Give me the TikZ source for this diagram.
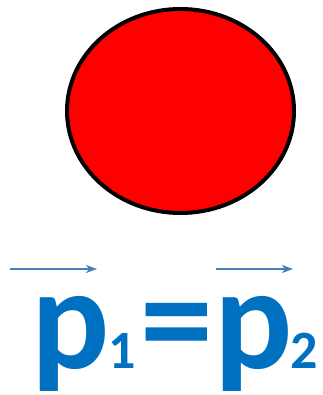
\documentclass[tikz,border=0pt]{standalone}
\usepackage{fontspec}
\setmainfont{Carlito}
\usetikzlibrary{arrows.meta}
\definecolor{txtblue}{HTML}{0070C0}
\definecolor{arrblue}{HTML}{4A7EBB}
\tikzset{
  ball/.style={draw=black, line width=4pt, fill=red},
  vecarrow/.style={draw=arrblue, line width=1.8pt, -{Stealth[length=11pt,width=8pt,inset=3pt]}},
  bigtxt/.style={inner sep=0pt, anchor=base west, text=txtblue, font=\fontsize{146}{146}\selectfont\bfseries},
  subtxt/.style={inner sep=0pt, anchor=base west, text=txtblue, font=\fontsize{54}{54}\selectfont\bfseries}
}
\begin{document}
\begin{tikzpicture}[x=1pt,y=-1pt]
\useasboundingbox (0,0) rectangle (322,395);
\draw[ball] (180.5,111) ellipse [x radius=113.5, y radius=102];
\coordinate (a1s) at (10,269);
\coordinate (a1e) at (97,269);
\coordinate (a2s) at (216,269);
\coordinate (a2e) at (293,269);
\draw[vecarrow] (a1s) -- (a1e);
\draw[vecarrow] (a2s) -- (a2e);
\node[bigtxt] (p1) at (31,368) {p};
\node[subtxt] (s1) at (108,368) {1};
\node[bigtxt] (eq) at (140,368) {=};
\node[bigtxt] (p2) at (214,368) {p};
\node[subtxt] (s2) at (290,368) {2};
\end{tikzpicture}
\end{document}
